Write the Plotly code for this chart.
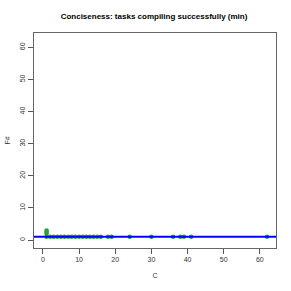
import plotly.graph_objects as go

# Data: C vs F# (minimum sizes of compiling tasks)
c_vals = [1, 1, 1, 1, 2, 3, 4, 5, 6, 7, 8, 9, 10, 11, 12, 13, 14, 15, 16, 18, 19, 24, 30, 36, 38, 39, 41, 62]
fs_vals = [1, 2, 2.5, 3, 1, 1, 1, 1, 1, 1, 1, 1, 1, 1, 1, 1, 1, 1, 1, 1, 1, 1, 1, 1, 1, 1, 1, 1]
ref_line_y = [1]
x_ticks = [0, 10, 20, 30, 40, 50, 60]
y_ticks = [0, 10, 20, 30, 40, 50, 60]

fig = go.Figure()
fig.add_trace(go.Scatter(
    x=c_vals, y=fs_vals, mode="markers",
    marker=dict(color="#2e9e3a", size=4.5, symbol="circle", line=dict(width=0)),
    showlegend=False))

fig.add_hline(y=ref_line_y[0], line=dict(color="#0000ff", width=2))

font = "Liberation Sans, Arial, sans-serif"
fig.update_layout(
    width=291, height=291,
    margin=dict(l=34, r=15, t=33, b=43, autoexpand=False),
    paper_bgcolor="white", plot_bgcolor="white",
    title=dict(text="<b>Conciseness: tasks compiling successfully (min)</b>",
               x=154 / 291, xanchor="center", y=1 - 16 / 291, yanchor="middle",
               font=dict(family=font, size=8, color="black")),
    font=dict(family=font, size=7, color="#333"),
    xaxis=dict(range=[-2.48, 64.48], tickvals=x_ticks, ticks="outside", ticklen=5,
               tickcolor="#555", showgrid=False, zeroline=False, automargin=False,
               showline=True, linecolor="#666", linewidth=1, mirror=True,
               title=dict(text="C", font=dict(family=font, size=7, color="#333"), standoff=10),
               tickfont=dict(size=7, color="#333")),
    yaxis=dict(range=[-2.48, 64.48], tickvals=y_ticks, ticks="outside", ticklen=5,
               tickcolor="#555", showgrid=False, zeroline=False, tickangle=-90,
               automargin=False,
               showline=True, linecolor="#666", linewidth=1, mirror=True,
               title=dict(text="F#", font=dict(family=font, size=7, color="#333"), standoff=7),
               tickfont=dict(size=7, color="#333")),
)

fig.write_html("out.html", post_script="document.body.style.margin='0';",
               config={"displayModeBar": False})
